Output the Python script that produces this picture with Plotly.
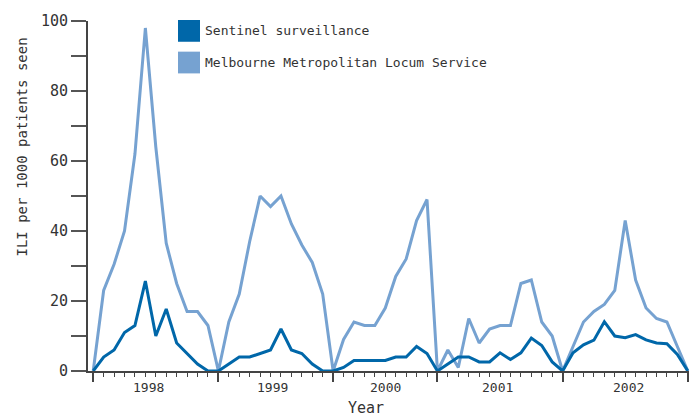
import plotly.graph_objects as go

YEARS = ["1998", "1999", "2000", "2001", "2002"]
WEEKS_PER_YEAR = [12, 11, 10, 12, 12]

SENTINEL = [
    0, 4, 6, 11, 13, 25.7, 10, 17.7, 8, 5, 2, 0, 0,
    2, 4, 4, 5, 6, 12, 6, 5, 2, 0, 0,
    1, 3, 3, 3, 3, 4, 4, 7, 5, 0,
    2, 4, 4, 2.6, 2.6, 5.2, 3.3, 5.2, 9.4, 7.3, 2.6, 0,
    5.2, 7.5, 8.8, 14.1, 10, 9.5, 10.4, 8.9, 8, 7.8, 4.7, 0,
]
LOCUM = [
    0, 23, 30.5, 40, 62, 98, 64, 36.5, 25, 17, 17, 13, 0,
    14, 22, 37, 50, 47, 50, 42, 36, 31, 22, 0,
    9, 14, 13, 13, 18, 27, 32, 43, 49, 0,
    6, 1, 15, 8, 12, 13, 13, 25, 26, 14, 10, 0,
    7, 14, 17, 19, 23, 43, 26, 18, 15, 14, 7, 0,
]

SERIES_NAMES = ["Sentinel surveillance", "Melbourne Metropolitan Locum Service"]
COLOR_SENTINEL = "#0067a9"
COLOR_LOCUM = "#76a2d1"
FONT = "DejaVu Sans Mono"
AXIS_COLOR = "#444444"

weeks = list(range(len(SENTINEL)))

# year boundaries (seasons share their zero end points)
bounds = [0]
for n in WEEKS_PER_YEAR:
    bounds.append(bounds[-1] + n)
# year labels sit a little left of the exact middle in the original
label_x = [(a + b) / 2 for a, b in zip(bounds[:-1], bounds[1:])]
label_x = [label_x[0] - 0.7, label_x[1] - 0.3, label_x[2], label_x[3] - 0.2, label_x[4] + 0.3]

fig = go.Figure()
fig.add_trace(go.Scatter(x=weeks, y=LOCUM, mode="lines", name=SERIES_NAMES[1],
                         line=dict(color=COLOR_LOCUM, width=3), showlegend=False))
fig.add_trace(go.Scatter(x=weeks, y=SENTINEL, mode="lines", name=SERIES_NAMES[0],
                         line=dict(color=COLOR_SENTINEL, width=3), showlegend=False))

# page body has an 8px margin, so the figure is drawn 8px smaller
OFF = 8
W, H = 697 - OFF, 419 - OFF
L, R, T, B = 80, 4, 9, 48
pw, ph = W - L - R, H - T - B


def px(x):
    return (x - OFF - L) / pw


def py(y):
    return (H - B - (y - OFF)) / ph


fig.update_layout(
    width=W,
    height=H,
    margin=dict(l=L, r=R, t=T, b=B),
    paper_bgcolor="white",
    plot_bgcolor="white",
    font=dict(family=FONT, size=13, color="#333333"),
    showlegend=False,
    xaxis=dict(
        range=[-0.5, len(SENTINEL) - 0.5],
        showgrid=False,
        zeroline=False,
        showline=True,
        linecolor=AXIS_COLOR,
        linewidth=2,
        tickvals=bounds,
        ticktext=[""] * len(bounds),
        ticks="outside",
        ticklen=9,
        tickwidth=1.5,
        tickcolor=AXIS_COLOR,
        minor=dict(dtick=1, tick0=0, ticks="outside", ticklen=4, tickwidth=1, tickcolor=AXIS_COLOR),
        fixedrange=True,
    ),
    yaxis=dict(
        range=[0, 100],
        showgrid=False,
        zeroline=False,
        showline=True,
        linecolor=AXIS_COLOR,
        linewidth=2,
        tickvals=list(range(0, 101, 10)),
        ticktext=[str(v) if v % 20 == 0 else "" for v in range(0, 101, 10)],
        ticks="outside",
        ticklen=15,
        tickwidth=1.5,
        tickcolor="#555555",
        tickfont=dict(size=15, family=FONT),
        fixedrange=True,
    ),
)

for label, xm in zip(YEARS, label_x):
    fig.add_annotation(x=xm, y=py(388), xref="x", yref="paper", text=label, showarrow=False,
                       font=dict(size=13), xanchor="center", yanchor="middle")

fig.add_annotation(x=px(366), y=py(408), xref="paper", yref="paper", text="Year", showarrow=False,
                   font=dict(size=15), xanchor="center", yanchor="middle")
fig.add_annotation(x=px(22), y=py(145), xref="paper", yref="paper", text="ILI per 1000 patients seen",
                   showarrow=False, textangle=-90, font=dict(size=14), xanchor="center", yanchor="middle")

# legend: square swatches with labels
for i, (name, col) in enumerate(zip(SERIES_NAMES, [COLOR_SENTINEL, COLOR_LOCUM])):
    top = 16 + i * 32
    fig.add_shape(type="rect", xref="paper", yref="paper",
                  x0=px(178), x1=px(200), y0=py(top), y1=py(top + 22),
                  fillcolor=col, line=dict(width=0))
    fig.add_annotation(x=px(203), y=py(top + 11), xref="paper", yref="paper", text=name,
                       showarrow=False, xanchor="left", yanchor="middle", font=dict(size=13))

fig.write_html("out.html")
